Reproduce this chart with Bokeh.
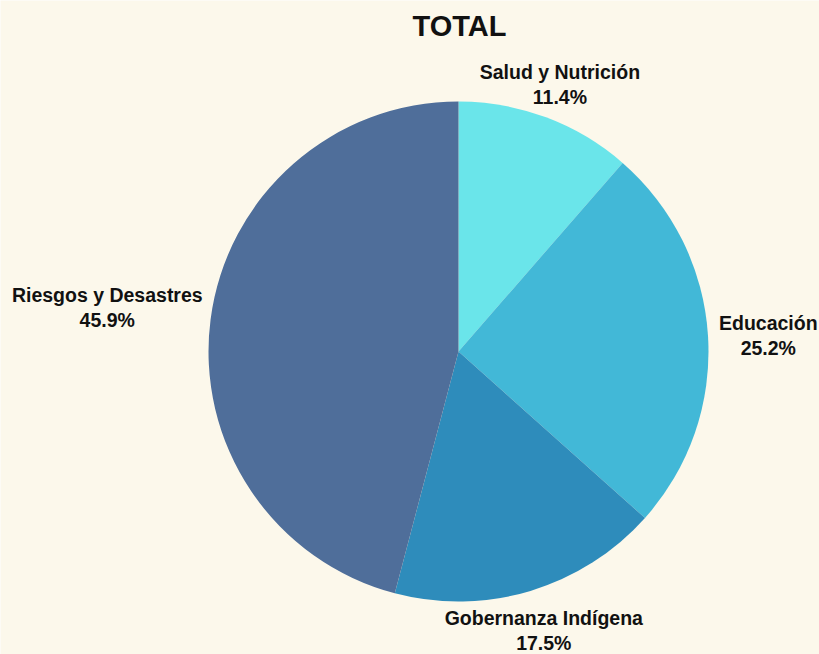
import math
from bokeh.plotting import figure
from bokeh.models import Range1d, ColumnDataSource
from bokeh.core.properties import value
from bokeh.embed import file_html
from bokeh.resources import INLINE

categories = ["Salud y Nutrición", "Educación", "Gobernanza Indígena", "Riesgos y Desastres"]
percents = [11.4, 25.2, 17.5, 45.9]
colors = ["#6AE5EA", "#42B8D7", "#2E8CBB", "#4F6E9A"]
title_text = "TOTAL"

BG = "#FCF8EB"
W, H = 819, 654
cx, cy = 458, H - 351   # pie centre (1 data unit = 1 px)
R = 250
FONT = "Liberation Sans"
FS = 19.5

# approximate Helvetica/Arial bold advance widths (1/1000 em) for label sizing
_W = {" ": 278, "R": 722, "i": 278, "e": 556, "s": 556, "g": 611, "o": 611,
      "y": 556, "D": 722, "a": 556, "t": 333, "r": 389, "E": 667, "d": 611,
      "u": 611, "c": 556, "ó": 611, "n": 611, "G": 778, "b": 611, "z": 500,
      "I": 278, "í": 278, "S": 667, "l": 278, "N": 722, ".": 278, "%": 889}


def text_width(s):
    return sum(_W.get(ch, 556) for ch in s) / 1000 * FS


p = figure(width=W, height=H, output_backend="svg", toolbar_location=None,
           x_range=Range1d(0, W), y_range=Range1d(0, H), min_border=0)
p.axis.visible = False
p.grid.visible = False
p.outline_line_color = None
p.background_fill_color = BG
p.border_fill_color = BG

total = sum(percents)
starts, ends = [], []
acc = 0.0
for v in percents:
    a0 = math.pi / 2 - 2 * math.pi * acc / total
    acc += v
    a1 = math.pi / 2 - 2 * math.pi * acc / total
    starts.append(a0)
    ends.append(a1)

src = ColumnDataSource(dict(start=starts, end=ends, color=colors,
                            x=[cx] * 4, y=[cy] * 4))
p.wedge(x="x", y="y", radius=R, radius_units="screen", start_angle="start",
        end_angle="end", direction="clock", fill_color="color",
        line_color=None, source=src)

# labels (two centred lines per slice)
line_gap = 25
for name, v, a0, a1 in zip(categories, percents, starts, ends):
    mid = (a0 + a1) / 2
    dx, dy = math.cos(mid), math.sin(mid)
    r = R + 8
    ax, ay = cx + r * dx, cy + r * dy
    lines = [name, f"{v:.1f}%"]
    if abs(dx) > 0.6:
        half = max(text_width(t) for t in lines) / 2
        if dx > 0:
            ax += 3 + half
            ys = [ay + line_gap / 2, ay - line_gap / 2]
        else:
            ax -= half
            ys = [ay + line_gap / 2 + 11, ay - line_gap / 2 + 11]
    else:
        ax += 11
        if dy > 0:
            ys = [ay + 13 + line_gap, ay + 13]
        else:
            ys = [ay - 19, ay - 19 - line_gap]
    p.text(x=[ax, ax], y=ys, text=lines, text_align="center", text_baseline="middle",
           text_font=value(FONT), text_font_style="bold", text_font_size=f"{FS}px",
           text_color="#111111")

p.text(x=[cx + 1], y=[H - 25], text=[title_text], text_align="center",
       text_baseline="middle", text_font=value(FONT), text_font_style="bold",
       text_font_size="29px", text_color="#111111")

html = file_html(p, INLINE)
open("out.html", "w").write(html)
